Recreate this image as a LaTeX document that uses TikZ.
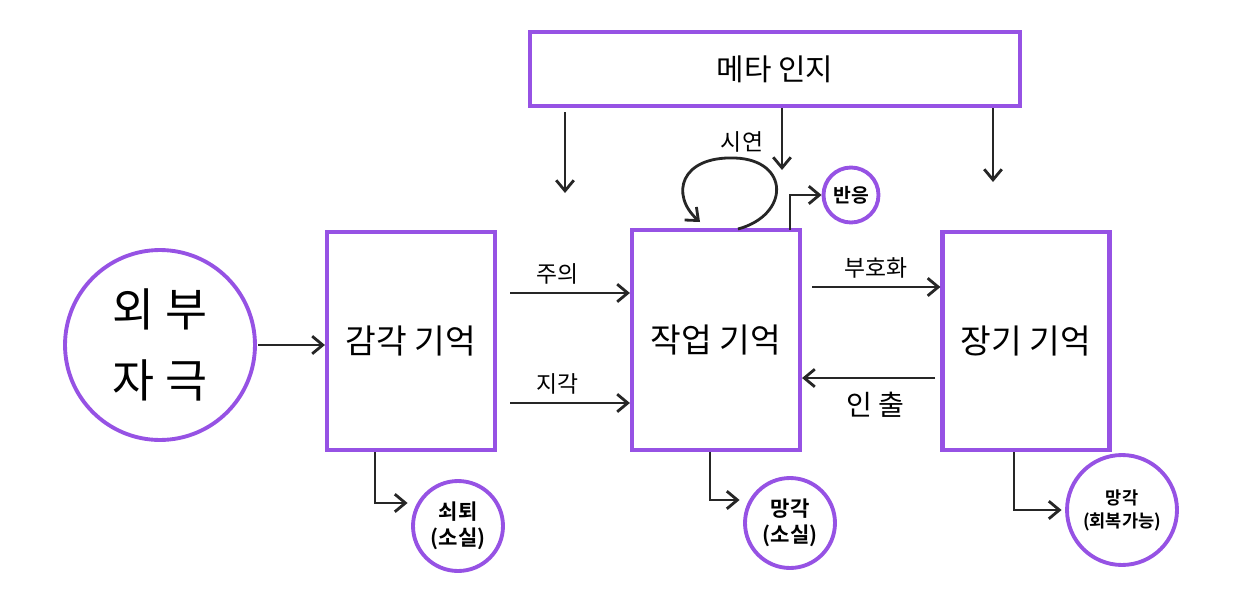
\documentclass[tikz,border=0pt]{standalone}
\usepackage{fontspec}
\setmainfont{Noto Sans CJK KR}[BoldFont={Noto Sans CJK KR Bold}]
\usetikzlibrary{arrows.meta}
\definecolor{pur}{RGB}{150,82,228}
\tikzset{
  x=0.02cm,y=-0.02cm,
  pbox/.style={draw=pur,line width=2.4pt,fill=white,inner sep=0pt},
  pcirc/.style={draw=pur,line width=2.2pt,circle,fill=white,inner sep=0pt,align=center},
  arr/.style={draw=black!85,line width=1.6pt,-{Straight Barb[length=6pt,width=10pt]}},
  lbl/.style={font=\fontsize{13}{15}\selectfont,inner sep=1pt},
}
\begin{document}
\begin{tikzpicture}
\useasboundingbox[fill=white] (0,0) rectangle (1254,612);
% boxes
\node[pbox,minimum width=9.8cm,minimum height=1.48cm,font=\fontsize{17}{20}\selectfont] (meta) at (775,69) {메타 인지};
\node[pbox,minimum width=3.36cm,minimum height=4.36cm,font=\fontsize{19}{22}\selectfont] (sens) at (411,341) {감각 기억};
\node[pbox,minimum width=3.36cm,minimum height=4.4cm,font=\fontsize{19}{22}\selectfont] (work) at (716,340) {작업 기억};
\node[pbox,minimum width=3.34cm,minimum height=4.36cm,font=\fontsize{19}{22}\selectfont] (long) at (1026,341) {장기 기억};
\node[pcirc,minimum size=3.8cm,font=\fontsize{26}{40}\selectfont] (ext) at (160,345) {외 부\\자 극};
% outcome circles
\node[pcirc,minimum size=1.1cm,font=\bfseries\fontsize{11}{13}\selectfont] (resp) at (851,195) {반응};
\node[pcirc,minimum size=1.8cm,font=\bfseries\fontsize{12}{15}\selectfont] (decay) at (458,526) {쇠퇴\\(소실)};
\node[pcirc,minimum size=1.8cm,font=\bfseries\fontsize{12}{15}\selectfont] (forg1) at (790,523) {망각\\(소실)};
\node[pcirc,minimum size=2.2cm,font=\bfseries\fontsize{10}{13}\selectfont] (forg2) at (1122,510) {망각\\(회복가능)};
% coordinates
\coordinate (m1) at (565,112); \coordinate (m1e) at (565,193);
\coordinate (m2) at (782,108); \coordinate (m2e) at (782,170);
\coordinate (m3) at (993,108); \coordinate (m3e) at (993,182);
\draw[arr] (m1) -- (m1e);
\draw[arr] (m2) -- (m2e);
\draw[arr] (m3) -- (m3e);
% input
\coordinate (eo) at (258,345);
\draw[arr] (eo) -- (sens.west |- eo);
% sens -> work
\coordinate (a1) at (510,293); \coordinate (a2) at (510,403);
\draw[arr] (a1) -- (work.west |- a1) node[lbl,pos=0.4,above=3pt] {주의};
\draw[arr] (a2) -- (work.west |- a2) node[lbl,pos=0.4,above=3pt] {지각};
% encode/retrieve
\coordinate (b1) at (812,287); \coordinate (b2) at (935,378);
\draw[arr] (b1) -- (long.west |- b1) node[lbl,pos=0.5,above=3pt] {부호화};
\draw[arr] (b2) -- (work.east |- b2) node[lbl,pos=0.45,below=6pt,font=\fontsize{16}{18}\selectfont] {인 출};
% rehearsal loop
\coordinate (r0) at (738,229);
\coordinate (r1) at (700,222);
\draw[arr] (r0) .. controls (790,215) and (790,160) .. (735,158)
  .. controls (680,156) and (670,195) .. (r1);
\node[lbl] (reh) at (742,142) {시연};
% response
\coordinate (q0) at (790,230);
\draw[arr] (q0) |- (resp.west);
% decay
\coordinate (d0) at (375,452);
\draw[arr] (d0) |- ([xshift=-2pt]decay.west |- 0,503);
\coordinate (f0) at (710,452);
\draw[arr] (f0) |- ([xshift=-2pt]forg1.west |- 0,500);
\coordinate (g0) at (1014,452);
\draw[arr] (g0) |- ([xshift=-2pt]forg2.west);
\end{tikzpicture}
\end{document}
